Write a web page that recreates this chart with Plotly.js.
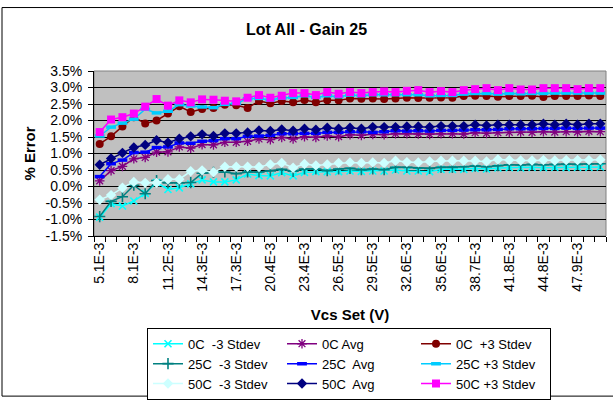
<!DOCTYPE html>
<html>
<head>
<meta charset="utf-8">
<script src="https://cdn.plot.ly/plotly-3.0.1.min.js"></script>
<style>html,body{margin:0;padding:0;background:#fff;}#chart{width:613px;height:406px;}</style>
</head>
<body>
<div id="chart"></div>
<script>
// Categories (Vcs Set, V)
const vcsLabels = ["5.1E-3","6.1E-3","7.1E-3","8.1E-3","9.2E-3","10.2E-3","11.2E-3","12.2E-3","13.3E-3","14.3E-3",
  "15.3E-3","16.3E-3","17.3E-3","18.4E-3","19.4E-3","20.4E-3","21.4E-3","22.4E-3","23.4E-3","24.5E-3",
  "25.5E-3","26.5E-3","27.5E-3","28.5E-3","29.5E-3","30.6E-3","31.6E-3","32.6E-3","33.6E-3","34.6E-3",
  "35.6E-3","36.7E-3","37.7E-3","38.7E-3","39.7E-3","40.8E-3","41.8E-3","42.8E-3","43.8E-3","44.8E-3",
  "45.9E-3","46.9E-3","47.9E-3","48.9E-3","49.9E-3"];

// Series values (% error)
const c0Minus3 = [-0.93,-0.52,-0.59,-0.44,-0.21,0.12,-0.09,-0.04,0.08,0.20,0.14,0.14,0.20,0.38,0.33,0.32,0.42,0.32,0.43,0.45,
  0.45,0.45,0.47,0.46,0.47,0.47,0.50,0.47,0.47,0.45,0.52,0.52,0.52,0.55,0.53,0.56,0.57,0.56,0.58,0.57,0.58,0.57,0.58,0.58,0.59];
const c0Avg = [0.17,0.48,0.61,0.84,0.88,1.04,1.05,1.20,1.16,1.27,1.26,1.34,1.34,1.37,1.44,1.42,1.49,1.44,1.51,1.49,
  1.53,1.51,1.57,1.55,1.58,1.57,1.60,1.60,1.59,1.58,1.60,1.60,1.59,1.63,1.61,1.63,1.64,1.65,1.64,1.66,1.65,1.66,1.65,1.67,1.66];
const c0Plus3 = [1.29,1.52,1.82,2.10,1.91,2.00,2.21,2.43,2.26,2.35,2.38,2.48,2.46,2.38,2.59,2.52,2.59,2.55,2.62,2.55,
  2.61,2.61,2.67,2.66,2.67,2.65,2.67,2.69,2.68,2.69,2.70,2.69,2.74,2.75,2.74,2.72,2.74,2.74,2.75,2.71,2.74,2.74,2.74,2.76,2.74];
const c25Minus3 = [-0.91,-0.45,-0.31,0.04,-0.22,0.18,0.11,0.11,0.12,0.40,0.43,0.44,0.39,0.44,0.44,0.47,0.52,0.46,0.53,0.53,
  0.48,0.53,0.55,0.51,0.53,0.51,0.58,0.58,0.56,0.55,0.58,0.58,0.60,0.62,0.60,0.63,0.66,0.65,0.67,0.66,0.67,0.68,0.67,0.68,0.69];
const c25Avg = [0.30,0.69,0.80,1.03,1.04,1.18,1.20,1.32,1.31,1.37,1.39,1.45,1.45,1.52,1.53,1.55,1.60,1.60,1.61,1.61,
  1.64,1.64,1.66,1.66,1.64,1.66,1.69,1.68,1.69,1.68,1.70,1.70,1.71,1.72,1.72,1.73,1.75,1.75,1.75,1.76,1.76,1.77,1.76,1.77,1.77];
const c25Plus3 = [1.53,1.80,1.92,2.04,2.34,2.23,2.28,2.48,2.44,2.41,2.39,2.49,2.52,2.66,2.67,2.62,2.68,2.70,2.75,2.70,
  2.75,2.72,2.77,2.75,2.78,2.78,2.78,2.78,2.78,2.75,2.76,2.76,2.80,2.82,2.82,2.80,2.82,2.81,2.82,2.82,2.83,2.83,2.83,2.83,2.83];
const c50Minus3 = [-0.40,-0.26,-0.04,0.14,0.11,0.11,0.22,0.22,0.46,0.49,0.43,0.60,0.60,0.60,0.59,0.67,0.71,0.57,0.68,0.64,
  0.67,0.71,0.73,0.71,0.73,0.71,0.78,0.74,0.73,0.76,0.78,0.78,0.78,0.78,0.76,0.82,0.80,0.79,0.79,0.80,0.79,0.80,0.80,0.80,0.81];
const c50Avg = [0.66,0.85,1.02,1.18,1.26,1.40,1.33,1.45,1.52,1.58,1.53,1.61,1.61,1.64,1.70,1.68,1.73,1.69,1.75,1.72,
  1.78,1.75,1.78,1.75,1.80,1.80,1.80,1.82,1.82,1.80,1.83,1.83,1.83,1.87,1.85,1.87,1.87,1.87,1.87,1.90,1.87,1.90,1.87,1.90,1.90];
const c50Plus3 = [1.65,2.03,2.10,2.21,2.42,2.65,2.45,2.61,2.55,2.64,2.63,2.60,2.58,2.69,2.77,2.69,2.75,2.83,2.83,2.77,
  2.86,2.81,2.86,2.83,2.86,2.88,2.86,2.90,2.92,2.86,2.89,2.86,2.92,2.95,2.98,2.92,2.98,2.94,2.94,2.98,2.98,2.98,2.95,2.98,2.98];

const seriesNames = ["0C\u00a0 -3 Stdev","0C Avg","0C\u00a0 +3 Stdev",
  "25C\u00a0 -3 Stdev","25C\u00a0 Avg","25C +3 Stdev",
  "50C\u00a0 -3 Stdev","50C\u00a0 Avg","50C +3 Stdev"];

// Tick labels
const yTickVals = [-1.5,-1.0,-0.5,0.0,0.5,1.0,1.5,2.0,2.5,3.0,3.5];
const yTickText = ["-1.5%","-1.0%","-0.5%","0.0%","0.5%","1.0%","1.5%","2.0%","2.5%","3.0%","3.5%"];
const xTickText = vcsLabels.map((l, i) => (i % 3 === 0 ? l : ""));

const styles = [
  {color:"#00FFFF", symbol:"x-thin-open", size:7, mlw:1.6},
  {color:"#800080", symbol:"asterisk-open", size:8, mlw:1.3},
  {color:"#800000", symbol:"circle", size:8, mlw:0},
  {color:"#008080", symbol:"cross-thin-open", size:8, mlw:1.6},
  {color:"#0000FF", symbol:"line-ew-open", size:7, mlw:3.5},
  {color:"#00CCFF", symbol:"line-ew-open", size:7, mlw:3.5},
  {color:"#CCFFFF", symbol:"diamond", size:8, mlw:0},
  {color:"#000080", symbol:"diamond", size:8, mlw:0},
  {color:"#FF00FF", symbol:"square", size:8, mlw:0}
];
const seriesData = [c0Minus3,c0Avg,c0Plus3,c25Minus3,c25Avg,c25Plus3,c50Minus3,c50Avg,c50Plus3];

const traces = seriesData.map((ys, k) => ({
  type: "scatter",
  mode: "lines+markers",
  name: seriesNames[k],
  x: vcsLabels,
  y: ys,
  line: {color: styles[k].color, width: 1.5},
  marker: {
    symbol: styles[k].symbol, size: styles[k].size, color: styles[k].color,
    line: {color: styles[k].color, width: styles[k].mlw}
  }
}));

const FONT = "Liberation Sans, Arial, sans-serif";
const layout = {
  width: 613, height: 406,
  margin: {l: 94, r: 7, t: 71, b: 166, pad: 0},
  paper_bgcolor: "#FFFFFF",
  plot_bgcolor: "#C0C0C0",
  font: {family: FONT, color: "#000000", size: 12},
  showlegend: true,
  title: {
    text: "<b>Lot All - Gain 25</b>",
    font: {family: FONT, size: 16, color: "#000"},
    x: 0.5, xref: "container", xanchor: "center",
    y: 1 - 29/406, yref: "container", yanchor: "middle"
  },
  xaxis: {
    type: "category",
    range: [-0.5, vcsLabels.length - 0.5],
    tickmode: "array",
    tickvals: vcsLabels,
    ticktext: xTickText,
    tickson: "boundaries",
    ticks: "outside", ticklen: 5, tickcolor: "#000", tickwidth: 1,
    tickangle: -90,
    tickfont: {family: FONT, size: 14, color: "#000"},
    showline: true, linecolor: "#000", linewidth: 1,
    showgrid: false, zeroline: false,
    title: {text: "<b>Vcs Set (V)</b>", font: {family: FONT, size: 15, color: "#000"}, standoff: 18}
  },
  yaxis: {
    range: [-1.5, 3.5],
    tickmode: "array",
    tickvals: yTickVals,
    ticktext: yTickText,
    ticks: "outside", ticklen: 5, tickcolor: "#000", tickwidth: 1,
    ticklabelstandoff: 3,
    tickfont: {family: FONT, size: 14, color: "#000"},
    showline: true, linecolor: "#000", linewidth: 1,
    showgrid: true, gridcolor: "#000000", gridwidth: 1,
    zeroline: false,
    title: {text: "<b>% Error</b>", font: {family: FONT, size: 15, color: "#000"}, standoff: 6}
  },
  legend: {
    orientation: "h",
    x: (147 - 94) / 512, xanchor: "left",
    y: (240 - 334) / 169, yanchor: "top",
    xref: "paper", yref: "paper",
    bgcolor: "#FFFFFF",
    bordercolor: "#000000", borderwidth: 1,
    font: {family: FONT, size: 13, color: "#000"},
    entrywidth: 89, entrywidthmode: "pixels",
    itemwidth: 30,
    traceorder: "normal"
  },
  shapes: [
    {type: "rect", xref: "paper", yref: "paper", x0: 0, x1: 1, y0: 0, y1: 1,
     line: {color: "#808080", width: 1}, layer: "below"},
    {type: "rect", xref: "paper", yref: "paper",
     x0: (2 - 94) / 512, x1: (620 - 94) / 512, y0: (240 - 404) / 169, y1: (240 - 6) / 169,
     line: {color: "#000000", width: 1}, fillcolor: "rgba(0,0,0,0)", layer: "above"}
  ]
};

Plotly.newPlot("chart", traces, layout, {staticPlot: true, displayModeBar: false});
</script>
</body>
</html>
